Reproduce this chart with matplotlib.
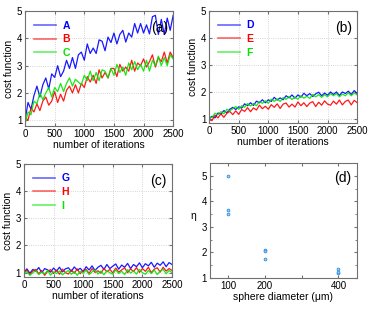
import matplotlib.pyplot as plt
import numpy as np

plt.rcParams['font.family'] = ['Liberation Sans', 'DejaVu Sans']

iterations = np.arange(0, 2501, 50)

# panel (a)
A = [1.0, 1.65, 1.4, 1.9, 2.25, 1.85, 2.3, 2.55, 2.15, 2.7, 2.57, 3.0, 2.6, 2.8, 3.2, 2.9, 3.3, 2.9, 3.4, 3.5,
     3.2, 3.8, 3.45, 3.65, 3.45, 3.95, 3.9, 3.55, 4.05, 3.85, 4.2, 3.8, 4.15, 4.3, 3.87, 4.2, 4.05, 4.55, 4.2, 4.55,
     4.2, 4.5, 4.17, 4.8, 4.85, 4.15, 4.7, 4.15, 4.75, 4.3, 4.85]
B = [1.1, 1.0, 1.45, 1.3, 1.6, 1.35, 1.7, 1.85, 1.55, 1.7, 2.05, 1.65, 1.95, 1.7, 2.1, 2.25, 2.0, 2.3, 2.0, 2.35,
     2.2, 2.6, 2.4, 2.65, 2.35, 2.85, 2.55, 2.75, 2.55, 2.9, 2.9, 2.6, 3.05, 2.8, 2.95, 2.8, 3.2, 2.8, 3.1, 3.0,
     3.25, 2.95, 3.15, 3.4, 2.95, 3.3, 3.15, 3.5, 3.1, 3.5, 3.3]
C = [0.85, 1.3, 1.2, 1.7, 1.6, 2.0, 1.75, 2.0, 2.2, 1.85, 2.2, 2.05, 2.35, 2.05, 2.35, 2.55, 2.25, 2.5, 2.4, 2.3,
     2.65, 2.45, 2.8, 2.45, 2.75, 2.45, 2.85, 2.8, 2.55, 2.9, 2.65, 3.05, 2.75, 2.95, 2.65, 3.1, 2.85, 3.15, 2.85, 3.05,
     2.8, 3.2, 2.8, 3.2, 3.0, 3.35, 3.0, 3.3, 3.0, 3.4, 3.25]

# panel (b)
D = [1.0, 1.1, 1.04, 1.22, 1.18, 1.31, 1.23, 1.36, 1.43, 1.35, 1.45, 1.4, 1.56, 1.49, 1.6, 1.5, 1.66, 1.6, 1.71, 1.6,
     1.71, 1.65, 1.8, 1.7, 1.78, 1.71, 1.86, 1.78, 1.89, 1.77, 1.89, 1.81, 1.95, 1.86, 1.94, 1.83, 1.93, 1.99, 1.86, 1.96,
     1.88, 2.0, 1.91, 2.0, 1.87, 2.0, 1.94, 2.03, 1.91, 2.05, 1.94]
E = [0.97, 0.94, 1.14, 1.04, 1.19, 1.06, 1.21, 1.28, 1.16, 1.3, 1.17, 1.35, 1.28, 1.42, 1.27, 1.41, 1.33, 1.51, 1.38, 1.47,
     1.36, 1.53, 1.43, 1.56, 1.39, 1.55, 1.59, 1.44, 1.55, 1.44, 1.63, 1.49, 1.6, 1.46, 1.59, 1.64, 1.46, 1.62, 1.51, 1.67,
     1.55, 1.51, 1.66, 1.55, 1.7, 1.52, 1.65, 1.7, 1.52, 1.69, 1.6]
F = [1.08, 1.05, 1.21, 1.16, 1.27, 1.19, 1.36, 1.3, 1.38, 1.46, 1.36, 1.49, 1.43, 1.57, 1.48, 1.57, 1.49, 1.64, 1.58, 1.67,
     1.58, 1.73, 1.65, 1.74, 1.65, 1.79, 1.73, 1.83, 1.72, 1.81, 1.73, 1.86, 1.77, 1.84, 1.76, 1.91, 1.82, 1.9, 1.8, 1.9,
     1.82, 1.94, 1.86, 1.94, 1.82, 1.92, 1.86, 1.97, 1.86, 1.96, 1.89]

# panel (c)
G = [1.02, 1.14, 0.98, 1.12, 1.05, 1.19, 1.0, 1.15, 1.1, 1.02, 1.17, 1.06, 1.2, 1.03, 1.14, 1.18, 1.05, 1.21, 1.09, 1.16,
     1.04, 1.22, 1.1, 1.25, 1.08, 1.2, 1.27, 1.12, 1.3, 1.15, 1.24, 1.32, 1.13, 1.28, 1.2, 1.34, 1.15, 1.3, 1.22, 1.36,
     1.18, 1.33, 1.25, 1.38, 1.2, 1.35, 1.27, 1.4, 1.22, 1.37, 1.3]
H = [1.0, 1.1, 0.93, 1.06, 1.12, 0.96, 1.08, 0.9, 1.05, 1.11, 0.97, 1.09, 0.94, 1.13, 1.0, 0.95, 1.1, 0.98, 1.14, 0.96,
     1.08, 1.12, 0.97, 1.15, 1.01, 1.07, 0.98, 1.16, 1.03, 1.12, 0.99, 1.17, 1.02, 1.1, 1.18, 1.0, 1.14, 1.04, 1.19, 1.01,
     1.15, 1.05, 1.2, 1.0, 1.13, 1.18, 1.02, 1.2, 1.06, 1.15, 1.08]
I = [0.95, 1.04, 0.9, 1.0, 1.07, 0.93, 1.02, 0.96, 1.08, 0.91, 1.03, 0.97, 1.06, 0.92, 1.01, 1.08, 0.94, 1.04, 0.9, 1.05,
     0.98, 1.09, 0.93, 1.03, 1.1, 0.95, 1.06, 0.92, 1.07, 1.0, 0.94, 1.1, 0.97, 1.05, 0.93, 1.11, 0.99, 1.06, 0.95, 1.12,
     1.0, 0.94, 1.08, 0.97, 1.1, 0.93, 1.06, 1.12, 0.96, 1.08, 1.0]

# panel (d)
diameter = [100, 100, 100, 200, 200, 200, 400, 400, 400]
eta = [5.0, 3.65, 3.5, 2.1, 2.05, 1.75, 1.35, 1.2, 1.25]

blue, red, green = '#0000ff', '#ff0000', '#00e600'
spine_col = '#707070'

fig = plt.figure(figsize=(3.74, 3.13), dpi=100)
ax_a = fig.add_axes([0.067, 0.597, 0.396, 0.367])
ax_b = fig.add_axes([0.559, 0.607, 0.396, 0.358])
ax_c = fig.add_axes([0.064, 0.115, 0.396, 0.361])
ax_d = fig.add_axes([0.561, 0.112, 0.393, 0.367])


def style(ax, grid=True):
    for s in ax.spines.values():
        s.set_color(spine_col)
        s.set_linewidth(0.8)
    ax.tick_params(direction='in', top=True, right=True, labelsize=7, length=2.5,
                   color=spine_col, pad=2)
    if grid:
        ax.grid(True, linestyle=':', color='#c8c8c8', linewidth=0.6)


panels = [
    (ax_a, [A, B, C], ['A', 'B', 'C'], '(a)', 0.78),
    (ax_b, [D, E, F], ['D', 'E', 'F'], '(b)', 0.85),
    (ax_c, [G, H, I], ['G', 'H', 'I'], '(c)', 0.84),
]
for ax, series, names, tag, ymin in panels:
    for vals, name, col in zip(series, names, [blue, red, green]):
        ax.plot(iterations, vals, color=col, linewidth=0.9, alpha=0.9, label=name)
    ax.set_xlim(0, 2500)
    ax.set_ylim(ymin, 5)
    ax.set_xticks([0, 500, 1000, 1500, 2000, 2500])
    ax.set_yticks([1, 2, 3, 4, 5])
    ax.set_xlabel('number of iterations', fontsize=7.5, labelpad=1)
    ax.set_ylabel('cost function', fontsize=7.5, labelpad=2)
    style(ax)
    leg = ax.legend(loc='upper left', frameon=False, handlelength=2.1, handletextpad=0.6,
                    labelspacing=0.35, labelcolor='linecolor', borderaxespad=0.5,
                    prop={'size': 7.5, 'weight': 'bold'})
    for ln in leg.get_lines():
        ln.set_alpha(0.6)
        ln.set_linewidth(1.2)
    ax.text(0.965, 0.85, tag, transform=ax.transAxes, ha='right', va='center', fontsize=10)

ax_d.plot(diameter, eta, linestyle='none', marker='o', markersize=2,
          markerfacecolor='#9cd0ff', markeredgecolor='#2f8fe0', markeredgewidth=0.6)
ax_d.set_xlim(50, 450)
ax_d.set_ylim(1, 5.5)
ax_d.set_xticks([100, 200, 300, 400])
ax_d.set_xticklabels(['100', '200', '', '400'])
ax_d.set_yticks([1, 2, 3, 4, 5])
ax_d.set_yticks([1.5, 2.5, 3.5, 4.5], minor=True)
ax_d.set_xlabel('sphere diameter (\u03bcm)', fontsize=7.5, labelpad=1)
ax_d.set_ylabel('\u03b7', fontsize=7.5, rotation=0, labelpad=6)
style(ax_d, grid=False)
ax_d.tick_params(which='minor', direction='in', right=True, length=1.5, color=spine_col)
ax_d.text(0.965, 0.87, '(d)', transform=ax_d.transAxes, ha='right', va='center', fontsize=10)

fig.savefig('out.png', dpi=100)
